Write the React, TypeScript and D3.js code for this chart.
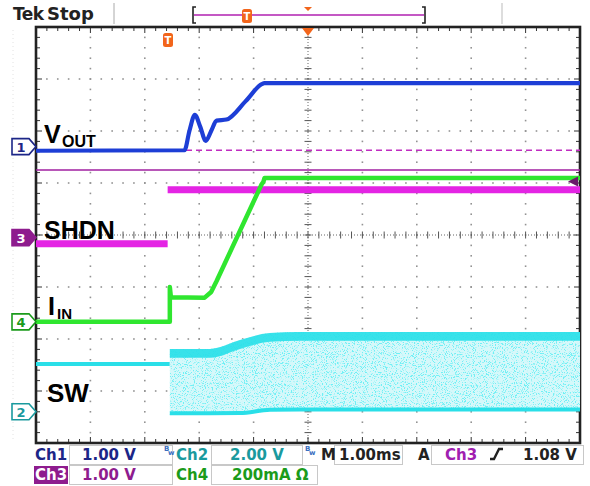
import React from 'react';
import * as d3 from 'd3';

// Screen geometry (Tek graticule: 10 x 8 divisions)
const W = 590;
const H = 486;
const X0 = 36, X1 = 580, Y0 = 27, Y1 = 443;

// Horizontal: 1.00 ms/div, trigger at centre
const timeDomain = [-5, 5];

// Channel settings: vertical offset of the ground marker (div) and units per division
const ch1 = { offset: 1.7, perDiv: 1.0 };   // VOUT, 1.00 V/div
const ch2 = { offset: -3.4, perDiv: 2.0 };  // SW, 2.00 V/div
const ch3 = { offset: -0.05, perDiv: 1.0 }; // SHDN, 1.00 V/div
const ch4 = { offset: -1.67, perDiv: 0.2 }; // IIN, 200 mA/div

// VOUT (V)
const vOutTime = [-5, -2.27, -2.18, -2.08, -1.98, -1.88, -1.78, -1.68, -1.5, -1.15, -0.85, -0.8, 5];
const vOutVolts = [-0.08, -0.07, 0.3, 0.61, 0.38, 0.11, 0.3, 0.5, 0.52, 0.87, 1.2, 1.22, 1.22];

// SHDN (V); NaN marks the break between the low and high segments
const shdnTime = [-5, -2.58, -2.58, -2.58, 5];
const shdnVolts = [-0.12, -0.12, NaN, 0.92, 0.92];

// IIN (A)
const iinTime = [-5, -2.54, -2.54, -2.52, -1.9, -1.78, -1.68, -0.85, -0.82, -0.8, 5];
const iinAmps = [0, 0, 0.134, 0.095, 0.093, 0.115, 0.157, 0.53, 0.538, 0.553, 0.553];

// SW (V): idle level, then the switching envelope
const swIdleTime = [-5, -2.54];
const swIdleVolts = [1.84, 1.84];
const swBandTime = [-2.54, -1.8, -1.25, -0.7, -0.15, 5];
const swBandHigh = [2.42, 2.42, 2.76, 3.03, 3.07, 3.07];
const swBandLow = [-0.12, -0.12, -0.11, 0.02, 0.03, 0.03];

// Trigger: Ch3 rising, 1.08 V
const trigLevel = 1.08;
const trigTime = 0;

// Cursor lines (divisions above centre)
const dashedCursorDiv = 1.63;
const solidCursorDiv = 1.25;

// Readout texts
const ch1Scale = '1.00 V';
const ch2Scale = '2.00 V';
const ch3Scale = '1.00 V';
const ch4Scale = '200mA Ω';
const timeScale = '1.00ms';
const trigText = '1.08 V';

const COL = {
  blue: '#1d3ed6',
  magenta: '#e424e4',
  green: '#2fe62f',
  cyan: '#2adfe8',
  navy: '#1c2687',
  teal: '#1a9a9e',
  purple: '#8e1c8e',
  dkgreen: '#1b9b1b',
  orange: '#f2651b',
  grid: '#939393',
  frame: '#222',
};

const xDiv = d3.scaleLinear().domain([0, 10]).range([X0, X1]);
const yDiv = d3.scaleLinear().domain([-4, 4]).range([Y1, Y0]);
const xTime = d3.scaleLinear().domain(timeDomain).range([X0, X1]);
const yCh = (ch: { offset: number; perDiv: number }) => (v: number) => yDiv(ch.offset + v / ch.perDiv);

const y1 = yCh(ch1), y2 = yCh(ch2), y3 = yCh(ch3), y4 = yCh(ch4);

const zip = (t: number[], v: number[]) => t.map((tt, i) => ({ t: tt, v: v[i] }));

const UI = "'DejaVu Sans', Verdana, sans-serif";
const LBL = "'Liberation Sans', Arial, sans-serif";

function Marker({ y, n, color, filled }: { y: number; n: string; color: string; filled?: boolean }) {
  const p = `M12,${y - 8} L29,${y - 8} L36,${y} L29,${y + 8} L12,${y + 8} Z`;
  return (
    <g>
      <path d={p} fill={filled ? color : '#fff'} stroke={color} strokeWidth={1.6} />
      <text x={21} y={y + 5} textAnchor="middle" fontFamily={UI} fontWeight="bold" fontSize={13} fill={filled ? '#fff' : color}>
        {n}
      </text>
    </g>
  );
}

function TMark({ x, y }: { x: number; y: number }) {
  return (
    <g>
      <rect x={x - 5} y={y - 7} width={10} height={14} rx={2.5} fill={COL.orange} />
      <text x={x} y={y + 4} textAnchor="middle" fontFamily={UI} fontWeight="bold" fontSize={10} fill="#fff">T</text>
    </g>
  );
}

export default function App() {
  const steps = d3.range(0, 50.001, 1).map((i) => i * 0.2); // 0..10 div in 0.2 steps
  const vsteps = d3.range(0, 40.001, 1).map((i) => -4 + i * 0.2);

  const gridDots: JSX.Element[] = [];
  for (let i = 1; i < 10; i++) {
    if (i === 5) continue;
    vsteps.forEach((v, k) => gridDots.push(<rect key={`v${i}-${k}`} x={xDiv(i) - 0.8} y={yDiv(v) - 0.8} width={1.6} height={1.6} fill={COL.grid} />));
  }
  for (let j = -3; j <= 3; j++) {
    if (j === 0) continue;
    steps.forEach((s, k) => gridDots.push(<rect key={`h${j}-${k}`} x={xDiv(s) - 0.8} y={yDiv(j) - 0.8} width={1.6} height={1.6} fill={COL.grid} />));
  }

  const vOutLine = d3.line<{ t: number; v: number }>().x((d) => xTime(d.t)).y((d) => y1(d.v)).curve(d3.curveMonotoneX);
  const shdnLine = d3.line<{ t: number; v: number }>().defined((d) => !isNaN(d.v)).x((d) => xTime(d.t)).y((d) => y3(d.v));
  const iinLine = d3.line<{ t: number; v: number }>().x((d) => xTime(d.t)).y((d) => y4(d.v));
  const swLine = d3.line<{ t: number; v: number }>().x((d) => xTime(d.t)).y((d) => y2(d.v));

  const band = swBandTime.map((t, i) => ({ t, hi: swBandHigh[i], lo: swBandLow[i] }));
  const bandArea = d3.area<{ t: number; hi: number; lo: number }>().x((d) => xTime(d.t)).y0((d) => y2(d.lo)).y1((d) => y2(d.hi)).curve(d3.curveMonotoneX);
  const topStrip = d3.area<{ t: number; hi: number; lo: number }>().x((d) => xTime(d.t)).y0((d) => y2(d.hi - 0.34)).y1((d) => y2(d.hi)).curve(d3.curveMonotoneX);
  const bottomLine = d3.line<{ t: number; hi: number; lo: number }>().x((d) => xTime(d.t)).y((d) => y2(d.lo + 0.06)).curve(d3.curveMonotoneX);

  const xc = xDiv(5);
  const yc = yDiv(0);
  const trigY = y3(trigLevel);
  const trigX = xTime(trigTime);

  const r1 = 460; // readout row baselines
  const r2 = 480;

  return (
    <svg width={W} height={H} viewBox={`0 0 ${W} ${H}`} style={{ position: 'absolute', left: 0, top: 0, background: '#fff' }}>
      <defs>
        <filter id="speckle" x="0" y="0" width="100%" height="100%">
          <feTurbulence type="fractalNoise" baseFrequency="0.9" numOctaves="2" seed="7" result="n" />
          <feColorMatrix in="n" type="matrix" values="0 0 0 0 0.16  0 0 0 0 0.87  0 0 0 0 0.91  8 0 0 0 -4.35" result="dots" />
          <feComposite in="dots" in2="SourceGraphic" operator="in" />
        </filter>
      </defs>
      <rect width={W} height={H} fill="#fff" />

      {/* header */}
      <text x={13} y={20} fontFamily={UI} fontWeight="bold" fontSize={17} letterSpacing={-0.6} fill="#222">Tek</text>
      <text x={47} y={20} fontFamily={UI} fontSize={18} fontWeight={600} fill="#222">Stop</text>
      <line x1={114} x2={114} y1={3} y2={24} stroke="#aaa" strokeWidth={1} />
      <line x1={502} x2={502} y1={3} y2={24} stroke="#bbb" strokeWidth={1} />
      <line x1={194} x2={424} y1={15} y2={15} stroke="#b020b0" strokeWidth={1.6} />
      <path d="M196,7 L193,7 L193,23 L196,23" fill="none" stroke="#222" strokeWidth={1.6} />
      <path d="M422,7 L425,7 L425,23 L422,23" fill="none" stroke="#222" strokeWidth={1.6} />
      <TMark x={247} y={16} />
      <path d={`M${trigX - 4},7 L${trigX + 4},7 L${trigX},11 Z`} fill={COL.orange} />

      {/* faint outer guide */}
      <line x1={13} x2={13} y1={30} y2={440} stroke="#e2e2e2" strokeDasharray="1,3" />

      {/* graticule dots */}
      {gridDots}

      {/* centre axes with ticks */}
      <line x1={X0} x2={X1} y1={yc} y2={yc} stroke="#666" strokeWidth={1} strokeDasharray="1,2" />
      <line x1={xc} x2={xc} y1={Y0} y2={Y1} stroke="#666" strokeWidth={1} strokeDasharray="1,2" />
      {steps.map((s, i) => (
        <line key={`cx${i}`} x1={xDiv(s)} x2={xDiv(s)} y1={yc - 3.5} y2={yc + 3.5} stroke="#555" strokeWidth={1} />
      ))}
      {vsteps.map((v, i) => (
        <line key={`cy${i}`} x1={xc - 3.5} x2={xc + 3.5} y1={yDiv(v)} y2={yDiv(v)} stroke="#555" strokeWidth={1} />
      ))}

      {/* border ticks */}
      {steps.map((s, i) => {
        const len = i % 5 === 0 ? 6 : 4;
        return (
          <g key={`bt${i}`}>
            <line x1={xDiv(s)} x2={xDiv(s)} y1={Y0} y2={Y0 + len} stroke="#333" strokeWidth={1} />
            <line x1={xDiv(s)} x2={xDiv(s)} y1={Y1} y2={Y1 - len} stroke="#333" strokeWidth={1} />
          </g>
        );
      })}
      {vsteps.map((v, i) => {
        const len = i % 5 === 0 ? 6 : 4;
        return (
          <g key={`bl${i}`}>
            <line x1={X0} x2={X0 + len} y1={yDiv(v)} y2={yDiv(v)} stroke="#333" strokeWidth={1} />
            <line x1={X1} x2={X1 - len} y1={yDiv(v)} y2={yDiv(v)} stroke="#333" strokeWidth={1} />
          </g>
        );
      })}
      <rect x={X0} y={Y0} width={X1 - X0} height={Y1 - Y0} fill="none" stroke={COL.frame} strokeWidth={2.6} />

      {/* cursors */}
      <line x1={X0} x2={X1} y1={yDiv(dashedCursorDiv)} y2={yDiv(dashedCursorDiv)} stroke="#c02cc0" strokeWidth={1.5} strokeDasharray="6,4" />
      <line x1={X0} x2={X1} y1={yDiv(solidCursorDiv)} y2={yDiv(solidCursorDiv)} stroke="#a01fa0" strokeWidth={1.5} />

      {/* SW */}
      <path d={swLine(zip(swIdleTime, swIdleVolts)) || ''} fill="none" stroke={COL.cyan} strokeWidth={4} />
      <path d={bandArea(band) || ''} fill="#d6f8fa" />
      <path d={bandArea(band) || ''} fill="#fff" filter="url(#speckle)" />
      <path d={topStrip(band) || ''} fill={COL.cyan} opacity={0.92} />
      <path d={bottomLine(band) || ''} fill="none" stroke={COL.cyan} strokeWidth={4} />

      {/* SHDN */}
      <path d={shdnLine(zip(shdnTime, shdnVolts)) || ''} fill="none" stroke={COL.magenta} strokeWidth={7} />

      {/* IIN */}
      <path d={iinLine(zip(iinTime, iinAmps)) || ''} fill="none" stroke={COL.green} strokeWidth={4.5} strokeLinejoin="round" />

      {/* VOUT */}
      <path d={vOutLine(zip(vOutTime, vOutVolts)) || ''} fill="none" stroke={COL.blue} strokeWidth={4.2} strokeLinejoin="round" />

      {/* trigger markers */}
      <path d={`M${trigX - 6},${Y0 + 1} L${trigX + 6},${Y0 + 1} L${trigX},${Y0 + 9} Z`} fill={COL.orange} />
      <TMark x={168} y={40} />
      <path d={`M${X1 - 12},${trigY} L${X1 - 2},${trigY - 5} L${X1 - 2},${trigY + 5} Z`} fill="#6a1a6a" />

      {/* channel ground markers */}
      <Marker y={y1(0)} n="1" color={COL.navy} />
      <Marker y={y3(0)} n="3" color={COL.purple} filled />
      <Marker y={y4(0)} n="4" color={COL.dkgreen} />
      <Marker y={y2(0)} n="2" color={COL.teal} />

      {/* trace labels */}
      <g fontFamily={LBL} fontWeight="bold" fill="#000">
        <text x={44} y={143} fontSize={25}>V</text>
        <text x={62} y={147} fontSize={16}>OUT</text>
        <text x={44} y={239} fontSize={25}>SHDN</text>
        <text x={48} y={315} fontSize={25}>I</text>
        <text x={57} y={319} fontSize={15}>IN</text>
        <text x={47} y={402} fontSize={26}>SW</text>
      </g>

      {/* readout */}
      <g fill="none" stroke="#c8c8c8" strokeWidth={1}>
        <rect x={69.5} y={445.5} width={103} height={19} />
        <rect x={211.5} y={445.5} width={91} height={19} />
        <rect x={334.5} y={445.5} width={68} height={19} />
        <rect x={431.5} y={445.5} width={152} height={19} />
        <rect x={69.5} y={465.5} width={103} height={19} />
        <rect x={211.5} y={465.5} width={106} height={19} />
      </g>
      <rect x={34} y={466} width={34} height={18} fill={COL.purple} />
      <g fontFamily={UI} fontWeight="bold" fontSize={15}>
        <text x={35} y={r1} fill={COL.navy}>Ch1</text>
        <text x={82} y={r1} fill={COL.navy}>{ch1Scale}</text>
        <text x={176} y={r1} fill={COL.teal}>Ch2</text>
        <text x={230} y={r1} fill={COL.teal}>{ch2Scale}</text>
        <text x={321} y={r1} fill="#222">M</text>
        <text x={339} y={r1} fill="#222">{timeScale}</text>
        <text x={418} y={r1} fill="#222">A</text>
        <text x={445} y={r1} fill="#a020b0">Ch3</text>
        <text x={523} y={r1} fill="#222">{trigText}</text>
        <text x={35} y={r2} fill="#fff">Ch3</text>
        <text x={82} y={r2} fill={COL.purple}>{ch3Scale}</text>
        <text x={176} y={r2} fill={COL.dkgreen}>Ch4</text>
        <text x={232} y={r2} fill={COL.dkgreen}>{ch4Scale}</text>
      </g>
      <path d={`M490,${r1 - 1} L494,${r1 - 1} L499,${r1 - 11} L503,${r1 - 11}`} fill="none" stroke="#222" strokeWidth={2.4} />
      <g fontFamily={UI} fontSize={7} fill="#3a6fc0" fontWeight="bold">
        <text x={164} y={451}>B</text>
        <text x={168} y={455}>w</text>
        <text x={305} y={451}>B</text>
        <text x={309} y={455}>w</text>
      </g>
    </svg>
  );
}
